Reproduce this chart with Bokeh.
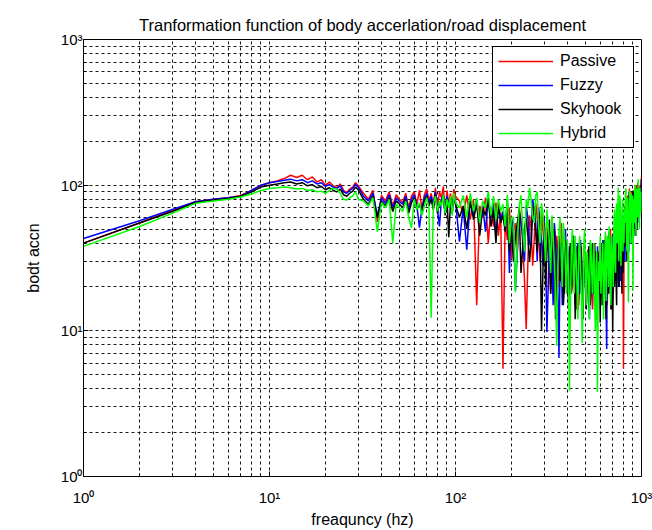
from bokeh.plotting import figure
from bokeh.models import FixedTicker, CustomJSTickFormatter, Legend, LegendItem, Range1d
from bokeh.embed import file_html
from bokeh.resources import INLINE

FREQ = [1, 2, 3, 4, 5, 6, 7, 8, 9, 10, 11, 12, 13, 14, 15, 16, 17, 18, 19, 20,
        21, 22, 23, 24, 25, 26, 27, 28, 29, 30,
        32, 34, 36, 38, 40, 42, 44, 46, 48, 50, 52, 54, 56, 58, 60, 62, 64, 66, 68, 70,
        72, 74, 76, 78, 80, 82, 84, 86, 88, 90, 92, 94, 96, 98, 100,
        105, 110, 115, 120, 125, 130, 135, 140, 145, 150, 155, 160, 165, 170, 175, 180,
        185, 190, 195, 200,
        205, 210, 215, 220, 225, 230, 235, 240, 245, 250, 255, 260, 265, 270, 275, 280, 285, 290, 295, 300,
        305, 310, 315, 320, 325, 330, 335, 340, 345, 350, 355, 360, 365, 370, 375, 380, 385, 390, 395, 400,
        405, 410, 415, 420, 425, 430, 435, 440, 445, 450, 455, 460, 465, 470, 475, 480, 485, 490, 495, 500,
        505, 510, 515, 520, 525, 530, 535, 540, 545, 550, 555, 560, 565, 570, 575, 580, 585, 590, 595, 600,
        605, 610, 615, 620, 625, 630, 635, 640, 645, 650, 655, 660, 665, 670, 675, 680, 685, 690, 695, 700,
        705, 710, 715, 720, 725, 730, 735, 740, 745, 750, 755, 760, 765, 770, 775, 780, 785, 790, 795, 800,
        805, 810, 815, 820, 825, 830, 835, 840, 845, 850, 855, 860, 865, 870, 875, 880, 885, 890, 895, 900,
        905, 910, 915, 920, 925, 930, 935, 940, 945, 950, 955, 960, 965, 970, 975, 980, 985, 990, 995, 1000]

PASSIVE = [40, 55, 67, 77, 80, 82, 85, 92, 100, 104, 107, 111, 117, 113, 117, 109, 114, 105, 109, 100,
           105, 99, 96, 102, 92, 89, 94, 97, 104, 99,
           88, 80, 92, 56, 85, 78, 90, 72, 86, 80, 76, 88, 70, 84, 90, 74, 92, 68, 86, 94,
           78, 88, 72, 96, 70, 90, 82, 98, 66, 92, 74, 88, 70, 94, 84,
           78, 62, 85, 58, 80, 15, 72, 60, 82, 40, 70, 52, 76, 45, 65, 5.5, 58, 42, 70, 31,
           48, 55, 35, 70, 58, 40, 22, 10.3, 30, 62, 50, 28, 42, 75, 60, 45, 30, 68, 50, 38,
           28, 52, 40, 25, 18, 60, 45, 30, 15, 45, 35, 20, 22, 55, 40, 28, 18, 40, 32, 22,
           25, 35, 30, 18, 20, 42, 35, 25, 14, 38, 28, 15, 20, 30, 38, 22, 16, 40, 30, 20,
           15, 32, 36, 24, 20, 38, 30, 18, 14, 28, 22, 35, 30, 20, 16, 30, 35, 25, 20, 40,
           28, 22, 18, 35, 40, 28, 22, 45, 30, 20, 15, 38, 45, 30, 24, 50, 36, 25, 20, 42,
           25, 35, 45, 55, 22, 30, 40, 60, 28, 40, 65, 48, 35, 70, 50, 35, 25, 58, 42, 5.5,
           30, 45, 60, 75, 80, 40, 55, 85, 70, 50, 40, 95, 75, 65, 50, 80, 90, 55, 60, 90,
           65, 70, 80, 100, 95, 60, 70, 90, 100, 75, 60, 105, 90, 80, 70, 95, 100, 85, 80, 114]

FUZZY = [43, 57, 68, 77, 80, 82, 84, 92, 100, 104, 106, 108, 110, 107, 109, 104, 107, 102, 104, 98,
         101, 97, 95, 99, 90, 88, 92, 95, 101, 97,
         84, 78, 88, 62, 82, 75, 86, 70, 82, 77, 74, 84, 68, 80, 86, 72, 51, 70, 82, 88,
         76, 84, 72, 90, 68, 52, 80, 86, 66, 84, 72, 80, 68, 86, 78,
         41, 70, 36, 78, 62, 80, 55, 72, 48, 82, 60, 75, 45, 70, 58, 66, 50, 80, 25, 60,
         50, 19, 35, 65, 55, 45, 30, 72, 60, 40, 38, 80, 68, 55, 30, 70, 50, 42, 28, 60,
         35, 9.8, 20, 48, 38, 30, 15, 55, 42, 22, 20, 6.5, 30, 40, 15, 25, 35, 50, 28, 18,
         30, 38, 18, 22, 30, 45, 25, 15, 20, 35, 40, 28, 18, 42, 30, 12, 20, 36, 32, 24,
         15, 30, 25, 18, 12, 40, 30, 22, 18, 34, 25, 14, 20, 28, 16, 38, 30, 20, 18, 32,
         20, 26, 30, 42, 28, 18, 22, 35, 15, 7.5, 40, 30, 20, 45, 35, 22, 15, 38, 45, 28,
         18, 40, 32, 25, 40, 50, 20, 32, 28, 45, 35, 20, 30, 55, 22, 38, 45, 62, 48, 30,
         40, 52, 30, 70, 58, 40, 50, 78, 65, 55, 35, 85, 62, 48, 40, 72, 80, 60, 45, 88,
         70, 65, 50, 92, 78, 58, 45, 84, 95, 70, 55, 100, 85, 76, 60, 90, 95, 82, 70, 108]

SKYHOOK = [40, 55, 66, 76, 79, 81, 84, 90, 97, 100, 102, 104, 105, 102, 104, 99, 101, 96, 98, 93,
           96, 92, 90, 94, 86, 84, 88, 91, 97, 93,
           80, 74, 84, 60, 78, 72, 82, 66, 78, 74, 70, 80, 64, 76, 82, 68, 74, 66, 78, 84,
           72, 80, 68, 86, 64, 76, 78, 82, 62, 80, 44, 76, 64, 82, 74,
           60, 72, 50, 78, 58, 74, 45, 70, 62, 80, 52, 68, 40, 75, 55, 62, 48, 70, 35, 52,
           30, 45, 55, 68, 25, 38, 50, 60, 45, 30, 40, 72, 60, 48, 35, 65, 50, 10, 25, 55,
           20, 35, 45, 58, 18, 28, 40, 50, 12, 20, 35, 45, 22, 30, 40, 15, 20, 42, 35, 25,
           15, 32, 40, 20, 28, 45, 30, 12, 20, 38, 14, 25, 32, 40, 25, 18, 12, 30, 35, 22,
           14, 28, 22, 38, 30, 15, 20, 32, 40, 25, 18, 40, 30, 20, 12, 35, 28, 18, 30, 11.4,
           40, 30, 15, 22, 28, 42, 35, 18, 12, 35, 30, 25, 18, 48, 35, 20, 14, 38, 30, 9.8,
           22, 32, 20, 48, 38, 22, 15, 55, 42, 30, 20, 45, 32, 60, 45, 28, 18, 50, 25, 35,
           45, 55, 38, 72, 60, 42, 30, 80, 65, 50, 40, 90, 70, 58, 45, 78, 55, 62, 40, 92,
           55, 68, 80, 95, 45, 60, 75, 88, 50, 72, 85, 102, 60, 78, 80, 92, 70, 84, 95, 110]

HYBRID = [38, 52, 64, 75, 78, 80, 83, 87, 92, 95, 96, 97, 96, 94, 95, 92, 93, 90, 91, 88,
          92, 95, 94, 88, 80, 79, 82, 84, 90, 80,
          78, 72, 82, 48, 76, 70, 80, 40, 74, 70, 66, 78, 60, 51, 80, 68, 76, 62, 72, 82,
          70, 12.3, 74, 84, 66, 78, 72, 86, 64, 80, 70, 84, 62, 88, 76,
          70, 85, 60, 88, 66, 82, 55, 78, 70, 90, 62, 84, 58, 80, 66, 74, 52, 86, 40, 60,
          60, 18.4, 40, 72, 85, 50, 35, 80, 70, 96, 80, 60, 55, 85, 90, 52, 40, 75, 65, 45,
          30, 68, 52, 40, 25, 62, 45, 30, 18, 7.9, 28, 48, 60, 35, 20, 55, 45, 28, 18, 42,
          25, 3.9, 15, 38, 50, 25, 18, 45, 32, 20, 12, 35, 45, 28, 20, 8.3, 15, 40, 50, 22,
          15, 35, 28, 20, 12, 42, 38, 25, 18, 32, 40, 15, 10, 28, 35, 3.8, 18, 30, 22, 45,
          18, 25, 30, 40, 12, 20, 32, 48, 16, 28, 45, 35, 20, 52, 38, 22, 15, 45, 35, 30,
          20, 50, 68, 32, 25, 62, 75, 40, 45, 96, 30, 55, 85, 70, 28, 45, 55, 80, 35, 60,
          40, 68, 55, 90, 95, 50, 35, 82, 60, 15.7, 45, 75, 92, 60, 40, 88, 70, 55, 85, 19,
          60, 80, 55, 100, 90, 62, 45, 95, 82, 70, 60, 110, 70, 85, 50, 96, 80, 75, 65, 90]

SERIES_NAMES = ["Passive", "Fuzzy", "Skyhook", "Hybrid"]
SERIES_COLORS = ["#ff0000", "#0000ff", "#000000", "#00ff00"]

MAJOR_TICKS = [1, 10, 100, 1000]
MINOR_TICKS = [2, 3, 4, 5, 6, 7, 8, 9, 20, 30, 40, 50, 60, 70, 80, 90,
               200, 300, 400, 500, 600, 700, 800, 900]

FONT = "Liberation Sans"

p = figure(width=652, height=530, x_axis_type="log", y_axis_type="log",
           x_range=Range1d(1, 1000), y_range=Range1d(1, 1000),
           output_backend="svg", toolbar_location=None,
           min_border_left=83, min_border_right=11, min_border_top=39, min_border_bottom=52,
           title="Tranformation function of body accerlation/road displacement")

p.title.align = "center"
p.title.vertical_align = "middle"
p.title.text_font = FONT
p.title.text_font_size = "16.5px"
p.title.text_font_style = "normal"
p.title.text_color = "black"
p.title.standoff = 10

p.outline_line_color = "black"
p.outline_line_width = 1
p.outline_line_alpha = 1

fmt = CustomJSTickFormatter(code="""
const sup = {'0': '\u2070', '1': '\u00b9', '2': '\u00b2', '3': '\u00b3'};
const e = Math.round(Math.log10(tick));
return '10' + sup[String(e)];
""")

for ax in (p.xaxis[0], p.yaxis[0]):
    ax.ticker = FixedTicker(ticks=MAJOR_TICKS, minor_ticks=MINOR_TICKS)
    ax.formatter = fmt
    ax.major_label_text_font = FONT
    ax.major_label_text_font_size = "15px"
    ax.major_label_text_color = "black"
    ax.axis_line_color = "black"
    ax.major_tick_in = 5
    ax.major_tick_out = 0
    ax.minor_tick_in = 3
    ax.minor_tick_out = 0
    ax.major_tick_line_color = "black"
    ax.minor_tick_line_color = "black"
    ax.axis_label_text_font = FONT
    ax.axis_label_text_font_size = "16px"
    ax.axis_label_text_font_style = "normal"
    ax.axis_label_text_color = "black"

p.xaxis.axis_label = "freaquncy (hz)"
p.yaxis.axis_label = "bodt accn"
p.xaxis.major_label_standoff = 12
p.xaxis.axis_label_standoff = 2
p.yaxis.major_label_standoff = 1
p.yaxis.axis_label_standoff = 16

for g in (p.xgrid[0], p.ygrid[0]):
    g.grid_line_color = "black"
    g.grid_line_dash = "3 3"
    g.grid_line_width = 1
    g.grid_line_alpha = 0.9
    g.minor_grid_line_color = "black"
    g.minor_grid_line_dash = "3 3"
    g.minor_grid_line_width = 1
    g.minor_grid_line_alpha = 0.9

renderers = []
for name, color, vals in zip(SERIES_NAMES, SERIES_COLORS, [PASSIVE, FUZZY, SKYHOOK, HYBRID]):
    r = p.line(FREQ, vals, line_color=color, line_width=1.5)
    renderers.append(r)

legend = Legend(items=[LegendItem(label=n, renderers=[r]) for n, r in zip(SERIES_NAMES, renderers)],
                location="top_right")
legend.label_text_font = FONT
legend.label_text_font_size = "16px"
legend.label_text_color = "black"
legend.padding = 5
legend.spacing = 6
legend.label_height = 18
legend.glyph_height = 18
legend.glyph_width = 55
legend.label_width = 68
legend.label_standoff = 7
legend.margin = 7
legend.border_line_color = "black"
legend.border_line_width = 1
legend.border_line_alpha = 1
legend.background_fill_color = "white"
legend.background_fill_alpha = 1
p.add_layout(legend)

open("out.html", "w").write(file_html(p, INLINE))
